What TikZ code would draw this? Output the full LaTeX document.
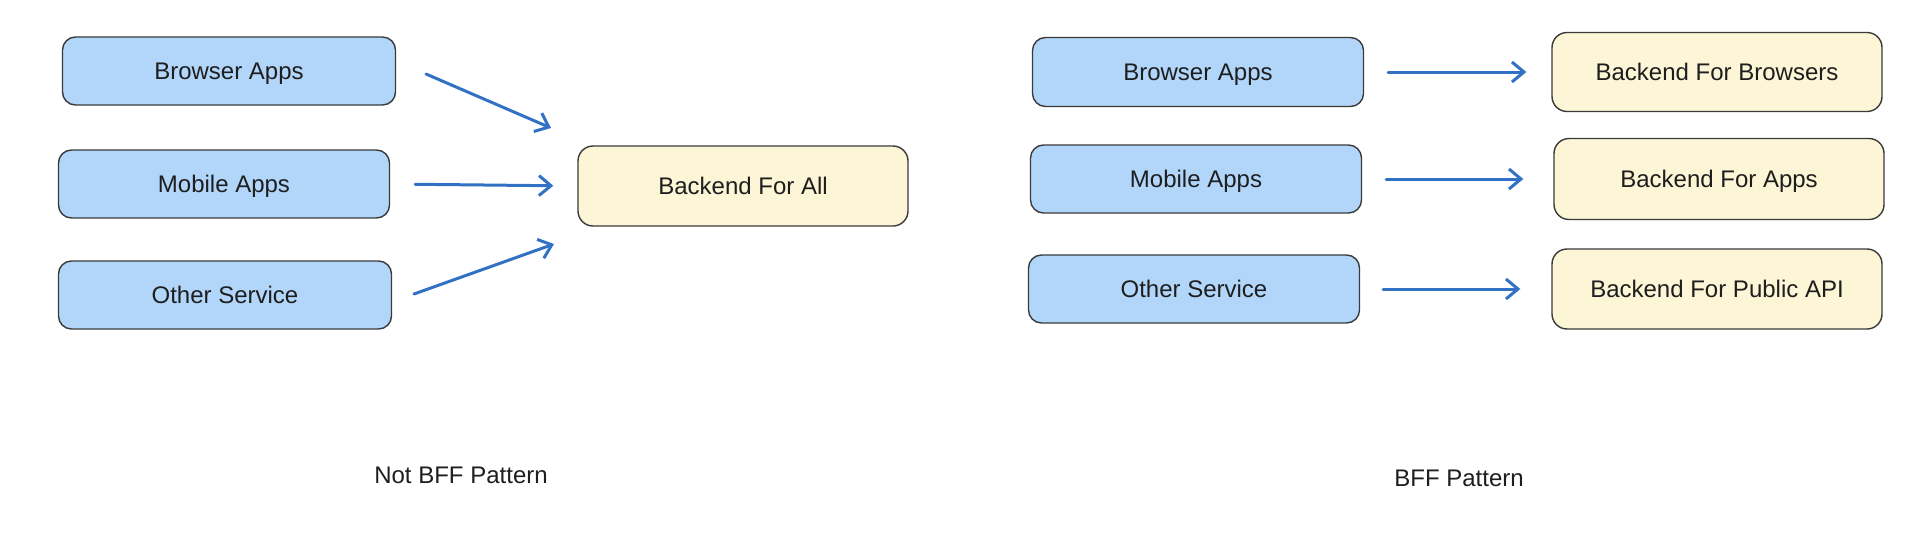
\documentclass[tikz,border=0pt]{standalone}
\usepackage{fontspec}
\setmainfont{Liberation Sans}
\usetikzlibrary{arrows.meta}
\definecolor{bluefill}{HTML}{B1D6FA}
\definecolor{yelfill}{HTML}{FCF5D6}
\definecolor{edge}{HTML}{3A3A3A}
\definecolor{arrowc}{HTML}{3271C4}
\definecolor{txt}{HTML}{1E1E1E}
\tikzset{
  client/.style={draw=edge, line width=1.4pt, fill=bluefill, rounded corners=13pt,
    minimum width=331pt, minimum height=68pt, inner sep=0pt,
    text height=17.5pt, text depth=0pt,
    font=\fontsize{24}{28}\selectfont, text=txt},
  backend/.style={draw=edge, line width=1.4pt, fill=yelfill, rounded corners=15pt,
    minimum width=330pt, minimum height=80pt, inner sep=0pt,
    text height=17.5pt, text depth=0pt,
    font=\fontsize{24}{28}\selectfont, text=txt},
  flow/.style={draw=arrowc, line width=3pt, line cap=round,
    -{Straight Barb[length=12pt,width=20pt,line width=3pt]}},
  caption/.style={font=\fontsize{24}{28}\selectfont, text=txt, inner sep=0pt}
}
\begin{document}
\begin{tikzpicture}[x=1pt,y=-1pt]
\useasboundingbox (0,0) rectangle (1932,538);
% left side
\node[client, minimum width=333pt] (lb) at (229,71) {Browser Apps};
\node[client] (lm) at (224,184) {Mobile Apps};
\node[client, minimum width=333pt] (lo) at (225,295) {Other Service};
\node[backend] (la) at (743,186) {Backend For All};
\coordinate (s1) at (426,74);
\coordinate (e1) at (551,128);
\coordinate (s3) at (414,294);
\coordinate (e3) at (554,244);
\draw[flow] (s1) -- (e1);
\draw[flow, shorten <=25pt, shorten >=24pt] (lm.east) -- (la.west);
\draw[flow] (s3) -- (e3);
\node[caption] (c1) at (461,475) {Not BFF Pattern};
% right side
\node[client, minimum height=69pt] (rb) at (1198,72) {Browser Apps};
\node[client] (rm) at (1196,179) {Mobile Apps};
\node[client] (ro) at (1194,289) {Other Service};
\node[backend, minimum height=79pt] (bb) at (1717,72) {Backend For Browsers};
\node[backend, minimum height=81pt] (ba) at (1719,179) {Backend For Apps};
\node[backend] (bp) at (1717,289) {Backend For Public API};
\draw[flow, shorten <=24pt, shorten >=25pt] (rb.east) -- (bb.west);
\draw[flow, shorten <=24pt, shorten >=30pt] (rm.east) -- (ba.west);
\draw[flow, shorten <=23pt, shorten >=31pt] (ro.east) -- (bp.west);
\node[caption] (c2) at (1459,478) {BFF Pattern};
\end{tikzpicture}
\end{document}
